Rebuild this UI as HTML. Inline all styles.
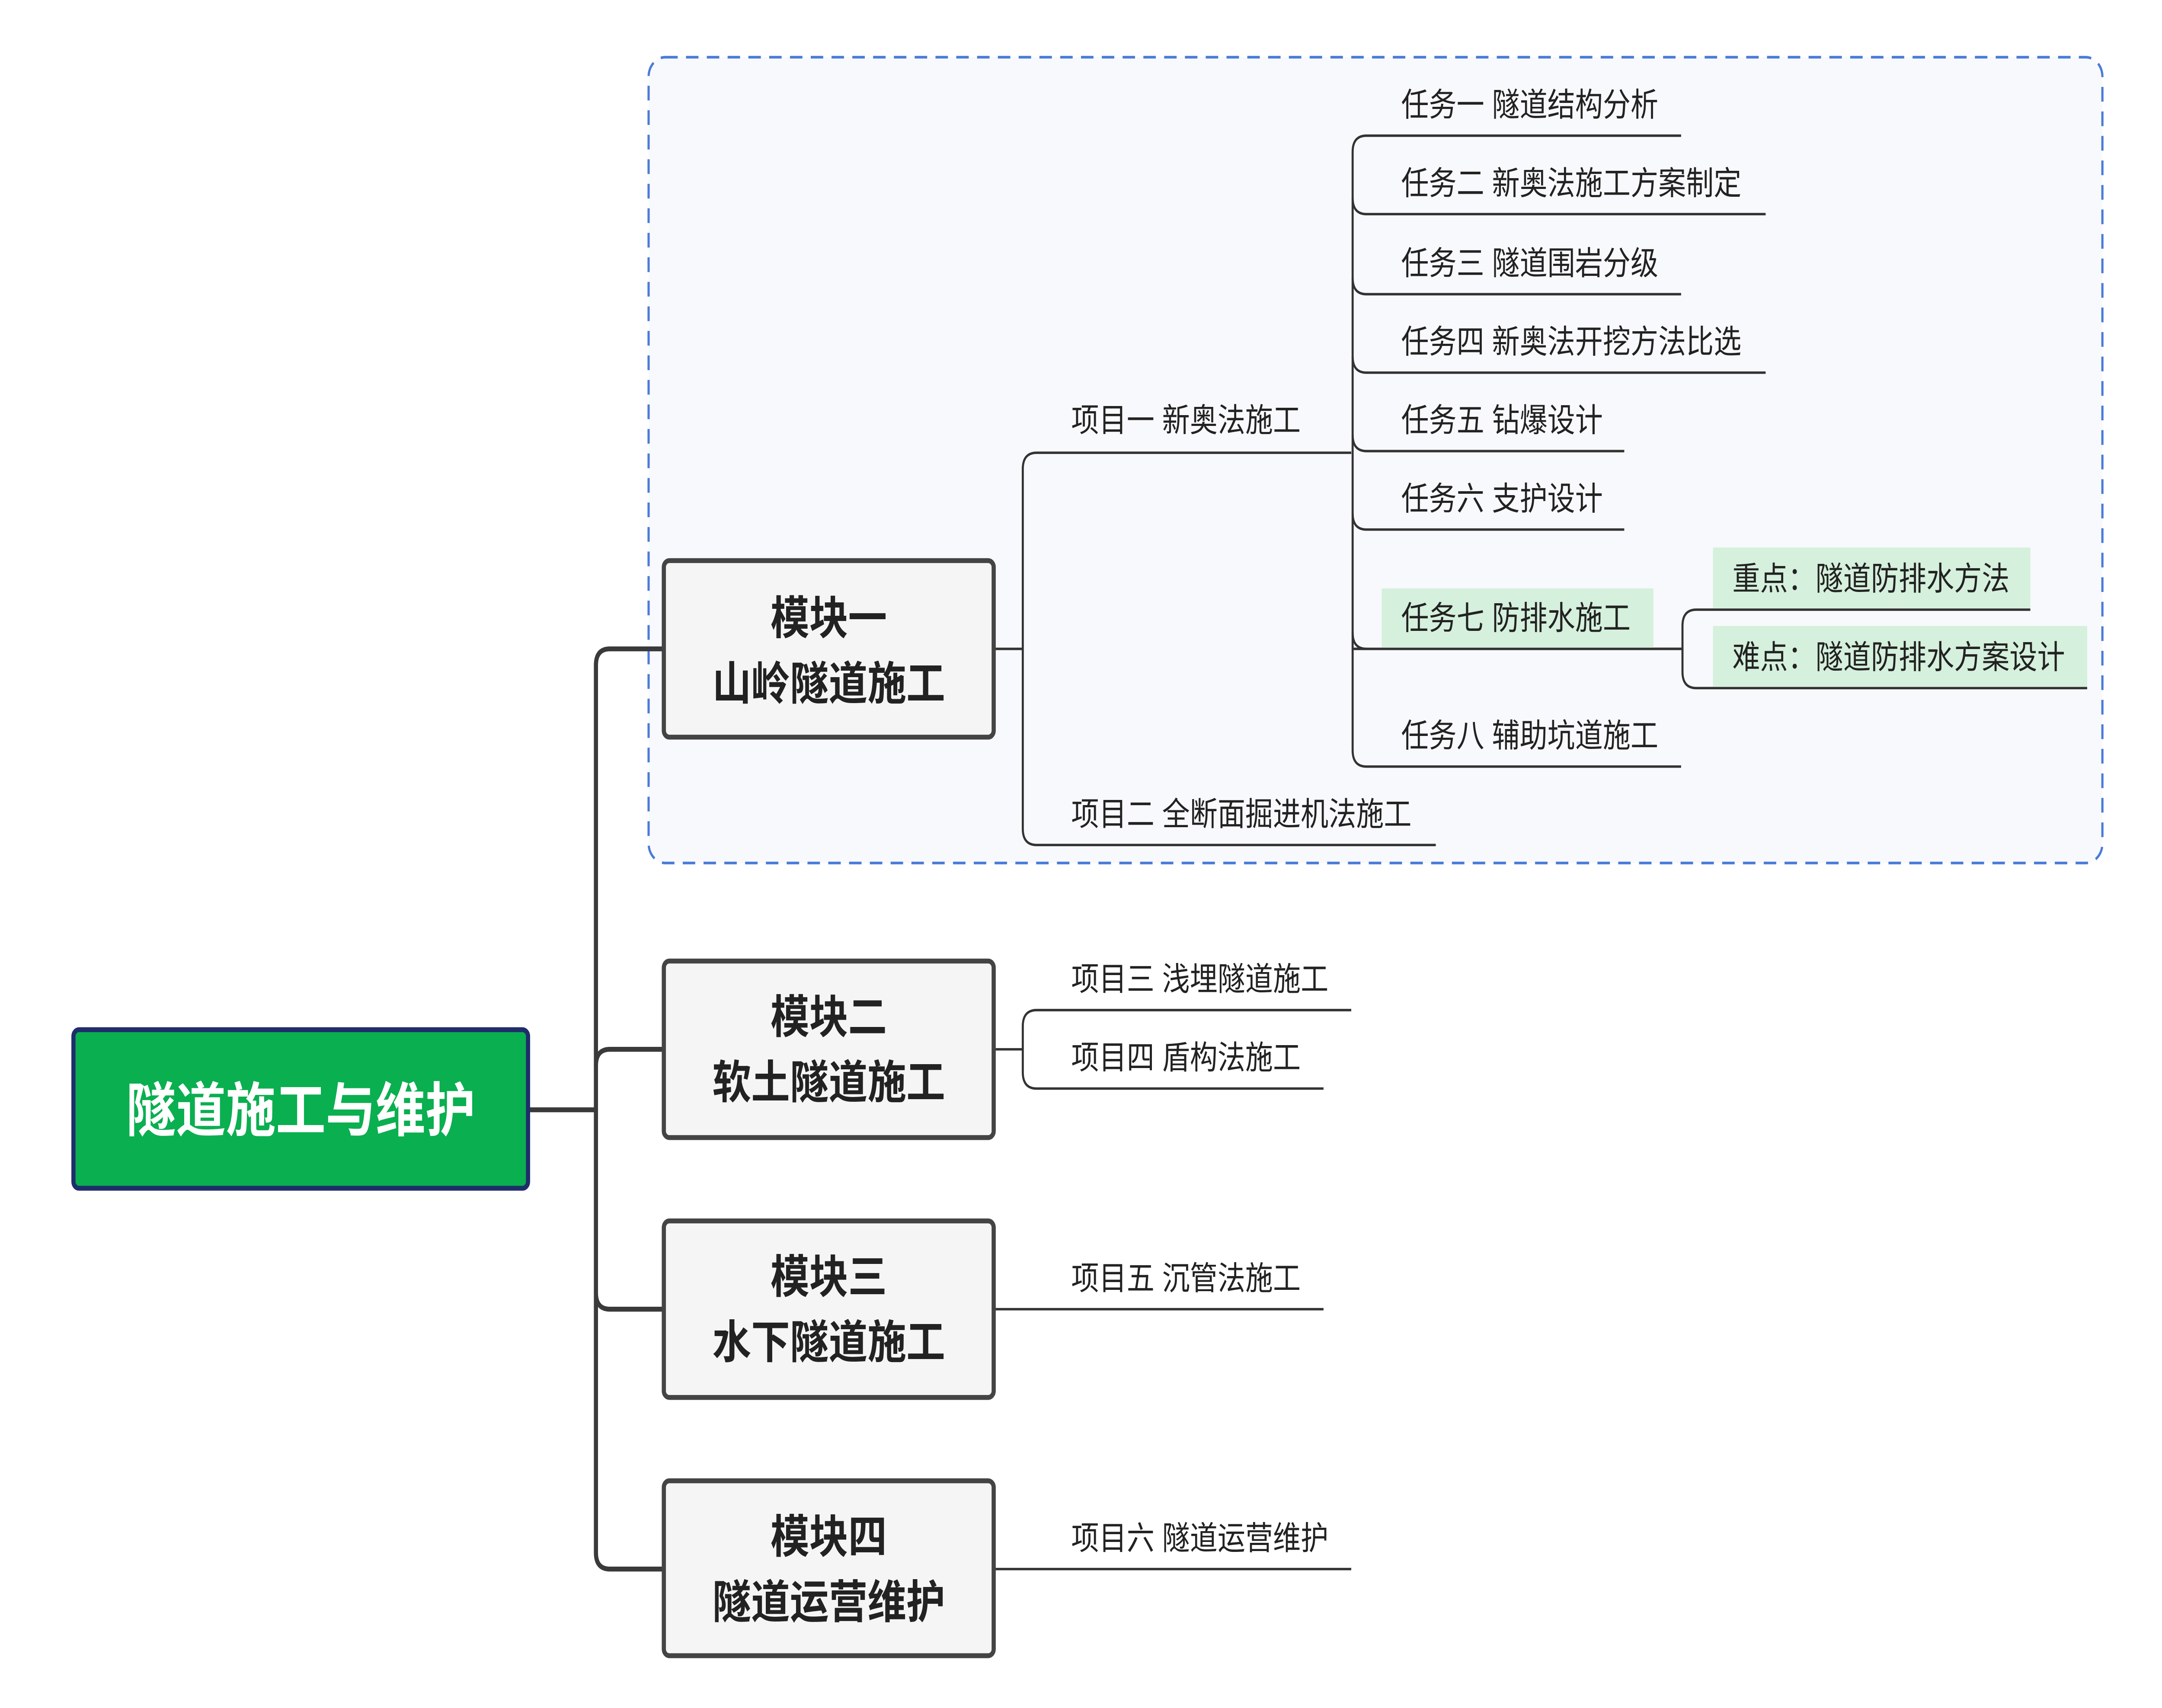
<!DOCTYPE html>
<html><head><meta charset="utf-8"><style>
html,body{margin:0;padding:0;background:#fff;width:100%;height:100%;overflow:hidden;}
svg{display:block;width:100vw;height:100vh;}
text{font-family:"Liberation Sans","Noto Sans CJK SC",sans-serif;}
</style></head><body>
<svg viewBox="0 0 1560 1045" preserveAspectRatio="none" xmlns="http://www.w3.org/2000/svg">
<rect x="0" y="0" width="1560" height="1045" fill="#fff"/>
<rect x="468" y="35" width="1049" height="493" rx="12" fill="#f8f9fc" stroke="#4a7bd8" stroke-width="1.6" stroke-dasharray="9,6"/>

<g fill="none" stroke="#3a3a3a" stroke-width="3">
<path d="M381 679 H430"/>
<path d="M480 397 H440 Q430 397 430 407 V950 Q430 960 440 960 H480"/>
<path d="M430 652 Q430 642 440 642 H480"/>
<path d="M430 791 Q430 801 440 801 H480"/>
</g>

<g fill="none" stroke="#333" stroke-width="1.5">
<path d="M717 397 H738"/>
<path d="M975 277 H748 Q738 277 738 287 V507 Q738 517 748 517 H1036"/>
<path d="M976 397 H986"/>
<path d="M1213 83 H986 Q976 83 976 93 V459 Q976 469 986 469 H1213"/>
<path d="M976 121 Q976 131 986 131 H1274"/>
<path d="M976 170 Q976 180 986 180 H1213"/>
<path d="M976 218 Q976 228 986 228 H1274"/>
<path d="M976 266 Q976 276 986 276 H1172"/>
<path d="M976 314 Q976 324 986 324 H1172"/>
<path d="M976 387 Q976 397 986 397 H1213"/>
<path d="M1193 397 H1214"/>
<path d="M1465 373 H1224 Q1214 373 1214 383 V411 Q1214 421 1224 421 H1506"/>
<path d="M717 642 H738"/>
<path d="M975 618 H748 Q738 618 738 628 V656 Q738 666 748 666 H955"/>
<path d="M717 801 H955"/>
<path d="M717 960 H975"/>
</g>

<rect x="997" y="360" width="196" height="36" fill="#d5f0dc"/>
<rect x="1236" y="335" width="229" height="37" fill="#d5f0dc"/>
<rect x="1236" y="383" width="270" height="37" fill="#d5f0dc"/>

<rect x="53" y="630" width="328" height="97" rx="4" fill="#0aaf50" stroke="#1f2d6b" stroke-width="3"/>
<text x="217" y="692" text-anchor="middle" font-size="36" font-weight="bold" fill="#fff">隧道施工与维护</text>

<g fill="#f5f5f5" stroke="#444" stroke-width="3">
<rect x="479" y="343" width="238" height="108" rx="4"/>
<rect x="479" y="588" width="238" height="108" rx="4"/>
<rect x="479" y="747" width="238" height="108" rx="4"/>
<rect x="479" y="906" width="238" height="107" rx="4"/>
</g>
<g font-size="28" font-weight="bold" fill="#222" text-anchor="middle">
<text x="598" y="388">模块一</text><text x="598" y="428">山岭隧道施工</text>
<text x="598" y="632">模块二</text><text x="598" y="672">软土隧道施工</text>
<text x="598" y="791">模块三</text><text x="598" y="831">水下隧道施工</text>
<text x="598" y="950">模块四</text><text x="598" y="990">隧道运营维护</text>
</g>

<g font-size="20" fill="#222">
<text x="773" y="264">项目一 新奥法施工</text>
<text x="773" y="505">项目二 全断面掘进机法施工</text>
<text x="1011" y="71">任务一 隧道结构分析</text>
<text x="1011" y="119">任务二 新奥法施工方案制定</text>
<text x="1011" y="168">任务三 隧道围岩分级</text>
<text x="1011" y="216">任务四 新奥法开挖方法比选</text>
<text x="1011" y="264">任务五 钻爆设计</text>
<text x="1011" y="312">任务六 支护设计</text>
<text x="1011" y="385">任务七 防排水施工</text>
<text x="1011" y="457">任务八 辅助坑道施工</text>
<text x="1250" y="361">重点：隧道防排水方法</text>
<text x="1250" y="409">难点：隧道防排水方案设计</text>
<text x="773" y="606">项目三 浅埋隧道施工</text>
<text x="773" y="654">项目四 盾构法施工</text>
<text x="773" y="789">项目五 沉管法施工</text>
<text x="773" y="948">项目六 隧道运营维护</text>
</g>
</svg>
</body></html>
